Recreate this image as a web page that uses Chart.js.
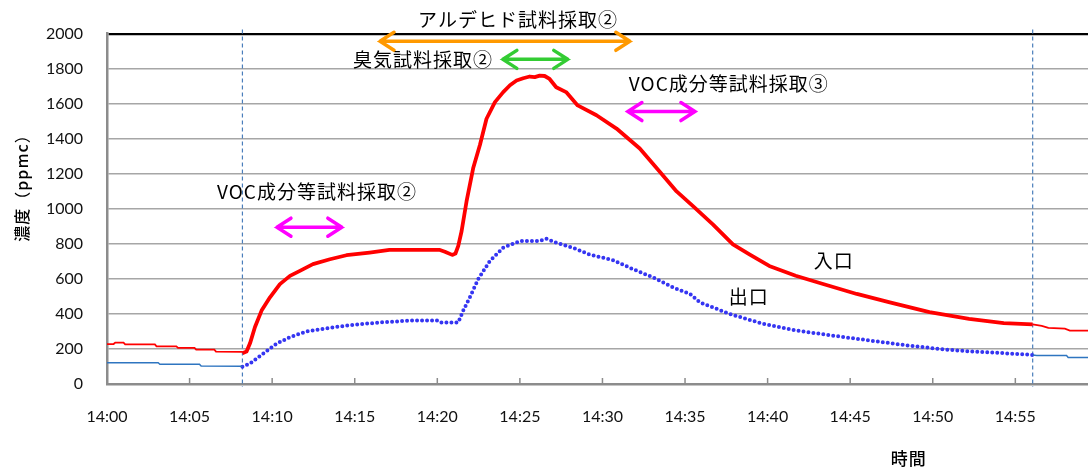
<!doctype html>
<html><head>
<meta charset="utf-8">
<title>濃度</title>
<script src="https://cdn.jsdelivr.net/npm/chart.js"></script>
<style>
  body { margin: 0; background: #fff; }
  #wrap { width: 1088px; height: 469px; position: relative; }
</style>
</head>
<body>
<div id="wrap"><canvas id="myChart"></canvas></div>
<script>
// tiempo en minutos desde 14:00
const inletPreTime   = [0, 0.4, 0.5, 1.0, 1.1, 2.9, 3.0, 4.2, 4.3, 5.3, 5.4, 6.5, 6.6, 8.2];
const inletPreValue  = [228, 228, 236, 236, 226, 226, 215, 215, 206, 206, 196, 196, 185, 183];

const inletTime  = [8.2, 8.45, 8.66, 8.96, 9.36, 9.87, 10.47, 11.08, 11.68, 12.47, 13.5, 14.5, 15.9, 17.1, 20.16, 20.46, 20.9, 21.1, 21.27, 21.47, 21.77, 22.17, 22.58, 22.98, 23.49, 23.99, 24.4, 24.8, 25.2, 25.6, 25.9, 26.2, 26.5, 26.8, 27.2, 27.8, 28.5, 29.64, 30.85, 32.26, 33.47, 34.49, 35.5, 36.7, 37.9, 38.9, 40.1, 41.7, 43.36, 45.4, 47.4, 49.8, 52.2, 54.3, 56.05];
const inletValue = [176, 185, 232, 325, 419, 495, 570, 617, 646, 684, 712, 735, 750, 765, 765, 755, 737, 745, 788, 872, 1042, 1231, 1364, 1514, 1609, 1666, 1705, 1732, 1745, 1755, 1752, 1760, 1758, 1741, 1694, 1666, 1590, 1534, 1458, 1344, 1212, 1099, 1014, 910, 797, 740, 674, 618, 571, 514, 466, 410, 372, 348, 340];

const inletPostTime  = [56.05, 56.6, 57.0, 58.0, 58.3, 59.4];
const inletPostValue = [340, 332, 320, 316, 305, 305];

const outletPreTime  = [0, 3.1, 3.2, 5.6, 5.7, 8.2];
const outletPreValue = [121, 121, 113, 113, 103, 101];

const outletTime  = [8.2, 8.66, 9.46, 10.27, 11.08, 12.09, 13.5, 14.9, 16.5, 18.54, 19.96, 20.16, 21.27, 21.57, 21.97, 22.48, 23.18, 23.99, 25, 26.2, 26.6, 27.2, 28.2, 29.2, 30.65, 31.86, 33.07, 34.28, 35.3, 35.9, 37.7, 39.7, 41.7, 43.8, 45.8, 48.4, 50.8, 52.8, 55.5, 56.05];
const outletValue = [98, 117, 174, 230, 268, 300, 321, 338, 351, 363, 363, 351, 351, 419, 495, 599, 702, 778, 816, 816, 829, 806, 778, 740, 706, 655, 608, 551, 514, 466, 400, 344, 306, 278, 253, 221, 196, 183, 170, 165];

const outletPostTime  = [56.05, 56.3, 58.1, 58.2, 59.4];
const outletPostValue = [165, 162, 162, 151, 151];

const markerTimes = [8.2, 56.05];   // lineas verticales punteadas
const yTicks = [0, 200, 400, 600, 800, 1000, 1200, 1400, 1600, 1800, 2000];

// flechas de muestreo: [desde, hasta, valor, color]
const arrows = [
  [16.53, 31.66, 1956, '#ff9900'],
  [23.97, 27.90, 1853, '#33cc33'],
  [31.54, 35.60, 1555, '#ff00ff'],
  [10.29, 14.22, 895, '#ff00ff']
];
const notes = [
  ['アルデヒド試料採取②', 24.88, 2078],
  ['臭気試料採取②', 19.13, 1853],
  ['VOC成分等試料採取③', 37.65, 1711],
  ['VOC成分等試料採取②', 12.71, 1099],
  ['入口', 44.0, 703],
  ['出口', 38.86, 499]
];

const pts = (t, v) => t.map((x, i) => ({x: x, y: v[i]}));

const extras = {
  id: 'extras',
  beforeDatasetsDraw(chart) {
    const {ctx, chartArea, scales} = chart;
    ctx.save();
    // marcas del eje x hacia dentro
    ctx.strokeStyle = '#8c8c8c';
    ctx.lineWidth = 1.5;
    scales.x.ticks.forEach(t => {
      const px = scales.x.getPixelForValue(t.value);
      ctx.beginPath(); ctx.moveTo(px, chartArea.bottom); ctx.lineTo(px, chartArea.bottom - 6); ctx.stroke();
    });
    // lineas verticales
    ctx.strokeStyle = '#4a7ebb';
    ctx.lineWidth = 1.2;
    ctx.setLineDash([4, 3]);
    markerTimes.forEach(m => {
      const px = scales.x.getPixelForValue(m);
      ctx.beginPath(); ctx.moveTo(px, chartArea.top - 4); ctx.lineTo(px, chartArea.bottom + 3); ctx.stroke();
    });
    ctx.restore();
  },
  afterDatasetsDraw(chart) {
    const {ctx, chartArea, scales} = chart;
    ctx.save();
    arrows.forEach(a => {
      const x1 = scales.x.getPixelForValue(a[0]);
      const x2 = scales.x.getPixelForValue(a[1]);
      const y = scales.y.getPixelForValue(a[2]);
      ctx.strokeStyle = a[3];
      ctx.lineWidth = 3.5;
      ctx.lineCap = 'round';
      ctx.beginPath();
      ctx.moveTo(x1, y); ctx.lineTo(x2, y);
      ctx.moveTo(x1 + 14, y - 9); ctx.lineTo(x1, y); ctx.lineTo(x1 + 14, y + 9);
      ctx.moveTo(x2 - 14, y - 9); ctx.lineTo(x2, y); ctx.lineTo(x2 - 14, y + 9);
      ctx.stroke();
    });
    ctx.fillStyle = '#000';
    ctx.textAlign = 'center';
    ctx.textBaseline = 'middle';
    ctx.font = '19px "Noto Sans CJK JP"';
    ctx.letterSpacing = '1px';
    notes.forEach(n => {
      ctx.fillText(n[0], scales.x.getPixelForValue(n[1]), scales.y.getPixelForValue(n[2]));
    });
    // titulos de ejes
    ctx.font = '500 17px "Noto Sans CJK JP"';
    ctx.fillText('時間', scales.x.getPixelForValue(48.55), chartArea.bottom + 75);
    ctx.translate(22, 184);
    ctx.rotate(-Math.PI / 2);
    ctx.font = '500 16px "Noto Sans CJK JP"';
    ctx.fillText('濃度（ppmc）', 0, 0);
    ctx.restore();
  }
};

const ctx = document.getElementById('myChart');
new Chart(ctx, {
  type: 'line',
  data: {
    datasets: [
      { data: pts(outletPreTime, outletPreValue), borderColor: '#2e75c0', borderWidth: 1.5 },
      { data: pts(outletPostTime, outletPostValue), borderColor: '#2e75c0', borderWidth: 1.5 },
      { data: pts(outletTime, outletValue), borderColor: '#3535f2', borderWidth: 4, borderDash: [0, 5], borderCapStyle: 'round' },
      { data: pts(inletPreTime, inletPreValue), borderColor: '#ff0000', borderWidth: 1.8 },
      { data: pts(inletPostTime, inletPostValue), borderColor: '#ff0000', borderWidth: 1.8 },
      { data: pts(inletTime, inletValue), borderColor: '#ff0000', borderWidth: 3.8, borderJoinStyle: 'round' }
    ]
  },
  options: {
    responsive: true,
    maintainAspectRatio: false,
    animation: false,
    elements: { point: { radius: 0 }, line: { tension: 0, fill: false } },
    layout: { padding: { top: 31, left: 0, right: 0, bottom: 0 } },
    plugins: { legend: { display: false }, tooltip: { enabled: false } },
    scales: {
      x: {
        type: 'linear', min: 0, max: 59.4,
        afterFit(s) { s.height = 85; },
        grid: { display: false, drawTicks: false },
        border: { color: '#8c8c8c', width: 2.5 },
        ticks: {
          stepSize: 5, includeBounds: false, padding: 23, maxRotation: 0,
          color: '#111', font: { family: 'Lato', size: 16 },
          callback: v => '14:' + String(v).padStart(2, '0')
        }
      },
      y: {
        min: 0, max: 2000,
        afterFit(s) { s.width = 107; },
        afterBuildTicks(s) { s.ticks = yTicks.map(v => ({value: v})); },
        grid: {
          drawTicks: false,
          color: c => c.tick.value === 2000 ? '#000' : '#a6a6a6',
          lineWidth: c => c.tick.value === 2000 ? 2.2 : 1.6
        },
        border: { color: '#8c8c8c', width: 2.5 },
        ticks: { padding: 24, color: '#111', font: { family: 'Lato', size: 16 }, callback: v => String(v) }
      }
    }
  },
  plugins: [extras]
});
</script>
</body></html>
